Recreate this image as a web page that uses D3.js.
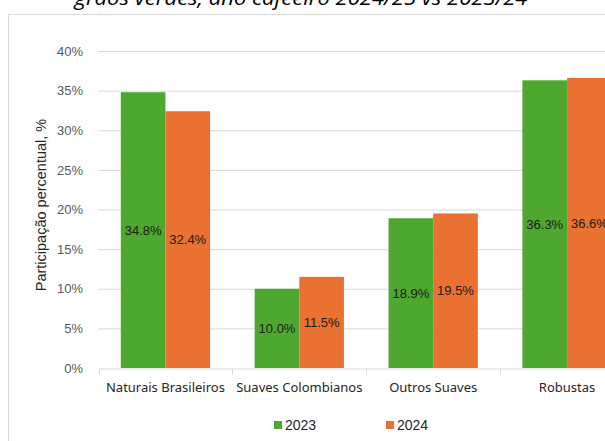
<!DOCTYPE html>
<html><head><meta charset="utf-8">
<script src="https://cdn.jsdelivr.net/npm/d3@7"></script>
<style>html,body{margin:0;padding:0;background:#fff;overflow:hidden}</style>
</head><body>
<svg id="c" width="605" height="441"></svg>
<script>
const categories = ["Naturais Brasileiros", "Suaves Colombianos", "Outros Suaves", "Robustas"];
const seriesNames = ["2023", "2024"];
const values2023 = [0.348, 0.100, 0.189, 0.363];
const values2024 = [0.324, 0.115, 0.195, 0.366];
const yTicks = [0, 0.05, 0.10, 0.15, 0.20, 0.25, 0.30, 0.35, 0.40];
const colors = ["#4EA72E", "#E97132"];
const titleText = "grãos verdes, ano cafeeiro 2024/25 vs 2023/24";
const yTitle = "Participação percentual, %";

const svg = d3.select("#c");
const series = [values2023, values2024];

// chart border
svg.append("rect").attr("x", 8.5).attr("y", 14.5).attr("width", 700).attr("height", 500)
  .attr("fill", "#fff").attr("stroke", "#d9d9d9").attr("stroke-width", 1);

// title
svg.append("text").attr("x", 301).attr("y", 5).attr("text-anchor", "middle")
  .attr("font-family", "'Open Sans', sans-serif").attr("font-style", "italic")
  .attr("font-size", 19.5).attr("fill", "#000")
  .attr("textLength", 453).attr("lengthAdjust", "spacingAndGlyphs")
  .text(titleText);

const y = d3.scaleLinear().domain([0, 0.40]).range([368, 51]);
const x = d3.scaleBand().domain(categories).range([98.5, 634]).padding(0);
const x1 = d3.scaleBand().domain(seriesNames).range([0, x.bandwidth()]).paddingInner(0).paddingOuter(0.5);

// gridlines
const grid = svg.append("g")
  .call(d3.axisLeft(y).tickValues(yTicks.slice(1)).tickSize(-(634 - 98.5)).tickFormat(""))
  .attr("transform", "translate(98.5,0)");
grid.select(".domain").remove();
grid.selectAll("line").attr("stroke", "#d9d9d9").attr("stroke-width", 1);

// y tick labels
const yAx = svg.append("g").attr("transform", "translate(83,0)")
  .call(d3.axisLeft(y).tickValues(yTicks).tickSize(0).tickPadding(0).tickFormat(d => Math.round(d * 100) + "%"));
yAx.select(".domain").remove();
yAx.selectAll("text").attr("font-family", "'Liberation Sans', Arial, sans-serif").attr("font-size", 13).attr("fill", "#595959");

// bars
const groups = svg.append("g").selectAll("g").data(categories).join("g")
  .attr("transform", d => `translate(${x(d)},0)`);
groups.selectAll("rect").data((d, i) => seriesNames.map((s, j) => ({ s, j, v: series[j][i] })))
  .join("rect")
  .attr("x", d => x1(d.s)).attr("width", x1.bandwidth())
  .attr("y", d => y(d.v)).attr("height", d => y(0) - y(d.v))
  .attr("fill", d => colors[d.j]);

// data labels
groups.selectAll("text").data((d, i) => seriesNames.map((s, j) => ({ s, j, v: series[j][i] })))
  .join("text")
  .attr("x", d => x1(d.s) + x1.bandwidth() / 2)
  .attr("y", d => (y(d.v) + y(0)) / 2)
  .attr("dy", "0.35em").attr("text-anchor", "middle")
  .attr("font-family", "'Liberation Sans', Arial, sans-serif").attr("font-size", 13)
  .attr("fill", "#1a1a1a")
  .text(d => (d.v * 100).toFixed(1) + "%");

// x axis
const xAx = svg.append("g").attr("transform", "translate(0,368.5)")
  .call(d3.axisBottom(x).tickSize(0).tickFormat(""));
xAx.select(".domain").attr("stroke", "#d9d9d9").attr("stroke-width", 1);
const bounds = categories.map(c => x(c)).concat([x.range()[1]]);
svg.append("g").selectAll("line").data(bounds).join("line")
  .attr("x1", d => Math.round(d) + 0.5).attr("x2", d => Math.round(d) + 0.5)
  .attr("y1", 368.5).attr("y2", 374.5).attr("stroke", "#d9d9d9");
svg.append("g").selectAll("text").data(categories).join("text")
  .attr("x", d => x(d) + x.bandwidth() / 2).attr("y", 392)
  .attr("text-anchor", "middle")
  .attr("font-family", "'Noto Sans', sans-serif").attr("font-size", 13)
  .attr("fill", "#262626").text(d => d);

// y title
svg.append("text").attr("transform", "translate(46,205) rotate(-90)")
  .attr("text-anchor", "middle")
  .attr("font-family", "'Liberation Sans', Arial, sans-serif").attr("font-size", 14.5)
  .attr("fill", "#262626").text(yTitle);

// legend
const legX = [274, 386];
const leg = svg.append("g").selectAll("g").data(seriesNames).join("g")
  .attr("transform", (d, i) => `translate(${legX[i]},0)`);
leg.append("rect").attr("x", 0).attr("y", 421).attr("width", 8).attr("height", 8)
  .attr("fill", (d, i) => colors[i]);
leg.append("text").attr("x", 11).attr("y", 430)
  .attr("font-family", "'Liberation Sans', Arial, sans-serif").attr("font-size", 14)
  .attr("fill", "#262626").text(d => d);
</script>
</body></html>
